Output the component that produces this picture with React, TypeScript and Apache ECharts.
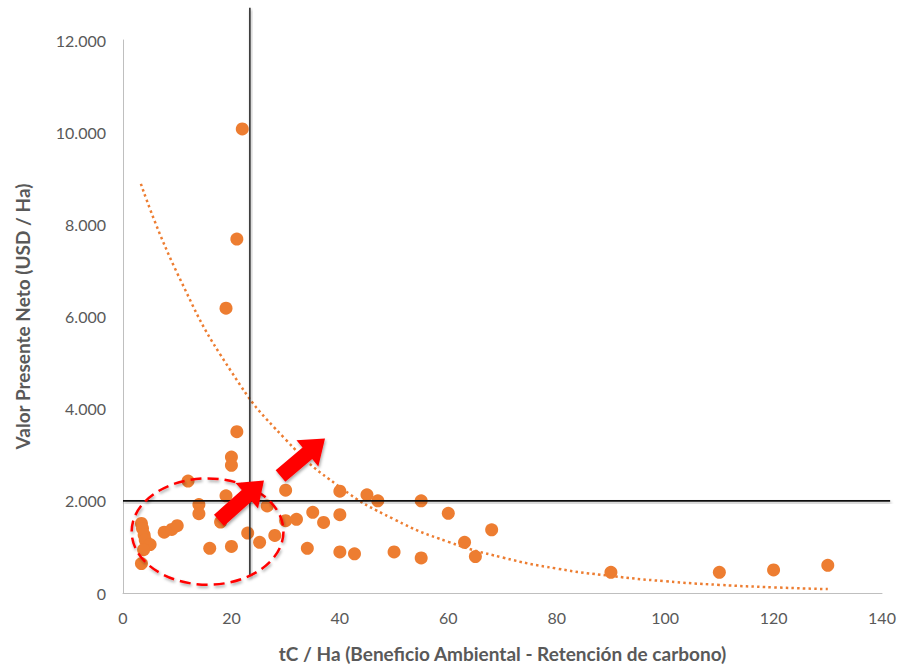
import React, { useEffect, useRef } from "react";
import * as echarts from "echarts";

// Scatter data (tC/Ha, USD/Ha)
const xValues = [22, 21, 19, 21, 20, 20, 12, 19, 14, 14, 18, 23, 16, 20, 3.4, 3.6, 3.9, 4.1, 5, 3.8, 3.4, 7.6, 9, 10, 30, 26.6, 30, 32, 35, 37, 40, 40, 45, 47, 25.2, 28, 34, 40, 42.7, 50, 55, 60, 68, 63, 65, 55, 90, 110, 120, 130];
const yValues = [10070, 7680, 6180, 3500, 2950, 2770, 2430, 2110, 1920, 1720, 1540, 1300, 970, 1010, 1510, 1400, 1260, 1150, 1050, 940, 640, 1320, 1380, 1460, 2230, 1890, 1570, 1600, 1750, 1530, 2210, 1700, 2130, 2000, 1100, 1250, 970, 890, 850, 890, 2000, 1730, 1370, 1100, 790, 760, 450, 450, 500, 600];

// Trend line
const trendX = [3.3, 10, 20, 30, 40, 50, 60, 70, 80, 90, 100, 110, 120, 130];
const trendY = [8880, 6940, 4800, 3330, 2300, 1600, 1110, 770, 530, 370, 255, 176, 122, 85];

const xTicks = [0, 20, 40, 60, 80, 100, 120, 140];
const yTicks = [0, 2000, 4000, 6000, 8000, 10000, 12000];

const xAxisTitle = "tC / Ha (Beneficio Ambiental - Retención de carbono)";
const yAxisTitle = "Valor Presente Neto (USD / Ha)";

// Reference lines
const refX = 23.4;
const refY = 2000;
const refXSpan = [370, 12700];
const refYSpan = [0, 141.5];

// Annotations (in data coordinates)
const ellipseBounds = { x1: 1.6, x2: 29.6, y1: 180, y2: 2486 };
const arrows = [
  { from: [17.7, 1578], to: [26.0, 2443] },
  { from: [29.05, 2540], to: [37.26, 3351] },
];

const fmt = (v: number) => String(v).replace(/\B(?=(\d{3})+(?!\d))/g, ".");

export default function App() {
  const ref = useRef<HTMLDivElement>(null);
  useEffect(() => {
    if (!ref.current) return;
    const chart = echarts.init(ref.current, null, { renderer: "svg" });
    const gray = "#595959";
    const font = "Lato, 'Open Sans', sans-serif";
    chart.setOption({
      animation: false,
      backgroundColor: "#ffffff",
      grid: { left: 123, right: 27, top: 40, bottom: 73 },
      xAxis: {
        type: "value",
        min: xTicks[0],
        max: xTicks[xTicks.length - 1],
        interval: 20,
        axisLine: { show: true, lineStyle: { color: "#bfbfbf", width: 1 } },
        axisTick: { show: false },
        splitLine: { show: false },
        axisLabel: { color: gray, fontSize: 16, fontFamily: font, margin: 16 },
        name: xAxisTitle,
        nameLocation: "middle",
        nameGap: 51,
        nameTextStyle: { color: gray, fontSize: 19, fontWeight: "bold", fontFamily: font },
      },
      yAxis: {
        type: "value",
        min: yTicks[0],
        max: yTicks[yTicks.length - 1],
        interval: 2000,
        axisLine: { show: true, lineStyle: { color: "#bfbfbf", width: 1 } },
        axisTick: { show: false },
        splitLine: { show: false },
        axisLabel: { color: gray, fontSize: 16, fontFamily: font, margin: 17, formatter: (v: number) => fmt(v) },
        name: yAxisTitle,
        nameLocation: "middle",
        nameGap: 91,
        nameTextStyle: { color: gray, fontSize: 19, fontWeight: "bold", fontFamily: font },
      },
      series: [
        {
          type: "line",
          data: trendX.map((x, i) => [x, trendY[i]]),
          smooth: true,
          symbol: "none",
          lineStyle: { color: "#ED7D31", width: 2.5, type: [2.5, 3.2] },
          z: 1,
        },
        {
          type: "scatter",
          data: xValues.map((x, i) => [x, yValues[i]]),
          symbolSize: 13,
          itemStyle: { color: "#ED7D31", opacity: 1 },
          z: 2,
        },
      ],
    });

    const p = (x: number, y: number) => chart.convertToPixel({ gridIndex: 0 }, [x, y]) as number[];
    const shadow = { shadowBlur: 3, shadowColor: "rgba(0,0,0,0.35)", shadowOffsetY: 2, shadowOffsetX: 1 };

    const vTop = p(refX, refXSpan[1]);
    const vBot = p(refX, refXSpan[0]);
    const hL = p(refYSpan[0], refY);
    const hR = p(refYSpan[1], refY);

    const eTL = p(ellipseBounds.x1, ellipseBounds.y2);
    const eBR = p(ellipseBounds.x2, ellipseBounds.y1);

    const arrowShapes = arrows.map((a) => {
      const [x0, y0] = p(a.from[0], a.from[1]);
      const [x1, y1] = p(a.to[0], a.to[1]);
      const dx = x1 - x0, dy = y1 - y0;
      const len = Math.hypot(dx, dy);
      const ux = dx / len, uy = dy / len;
      const px = -uy, py = ux;
      const sw = 7.5, hw = 17, hl = 23;
      const bx = x1 - ux * hl, by = y1 - uy * hl;
      const pts = [
        [x0 + px * sw, y0 + py * sw],
        [bx + px * sw, by + py * sw],
        [bx + px * hw, by + py * hw],
        [x1, y1],
        [bx - px * hw, by - py * hw],
        [bx - px * sw, by - py * sw],
        [x0 - px * sw, y0 - py * sw],
      ];
      return {
        type: "polygon",
        z: 100,
        shape: { points: pts },
        style: { fill: "#ff0000", ...shadow },
      };
    });

    const lw = 1.6;
    chart.setOption({
      graphic: [
        {
          type: "rect",
          z: 50,
          shape: { x: vTop[0] - lw / 2, y: vTop[1], width: lw, height: vBot[1] - vTop[1] },
          style: { fill: "#333", ...shadow },
        },
        {
          type: "rect",
          z: 50,
          shape: { x: hL[0], y: hL[1] - lw / 2, width: hR[0] - hL[0], height: lw },
          style: { fill: "#111", ...shadow },
        },
        {
          type: "ellipse",
          z: 90,
          shape: {
            cx: (eTL[0] + eBR[0]) / 2,
            cy: (eTL[1] + eBR[1]) / 2,
            rx: (eBR[0] - eTL[0]) / 2,
            ry: (eBR[1] - eTL[1]) / 2,
          },
          style: { fill: "none", stroke: "#ff0000", lineWidth: 2.5, lineDash: [11, 6], ...shadow },
        },
        ...arrowShapes,
      ],
    });

    return () => chart.dispose();
  }, []);
  return <div ref={ref} style={{ position: "fixed", left: 0, top: 0, width: 909, height: 668 }} />;
}
